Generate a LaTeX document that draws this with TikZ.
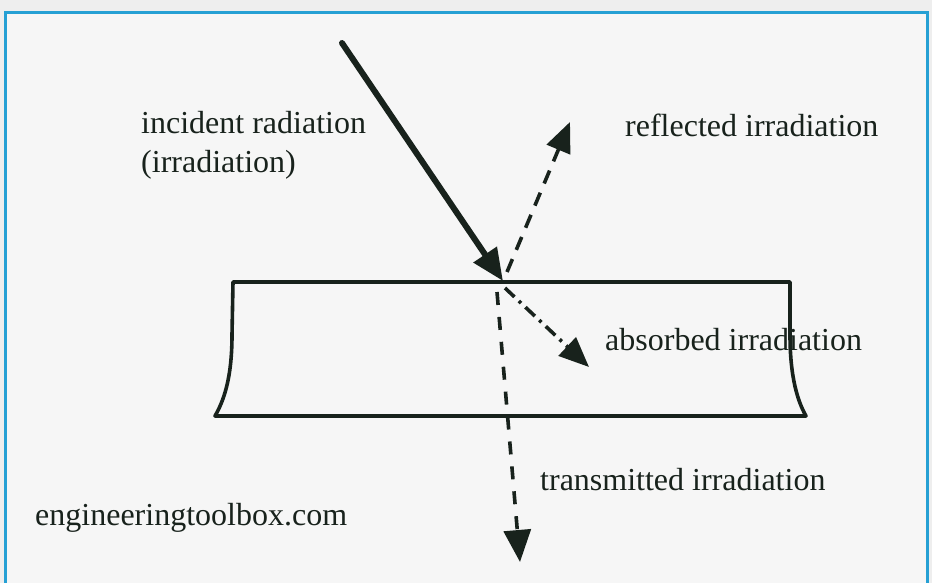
\documentclass[tikz,border=0pt]{standalone}
\usepackage{fontspec}
\setmainfont{Liberation Serif}
\usetikzlibrary{arrows.meta}
\definecolor{inkc}{RGB}{24,34,28}
\definecolor{framec}{RGB}{38,160,212}
\definecolor{paperc}{RGB}{238,238,238}
\tikzset{
  lbl/.style={anchor=base west, inner sep=0pt, text=inkc, font=\fontsize{32}{38}\selectfont},
  bighead/.style={-{Triangle[length=32pt,width=27pt]}},
  midhead/.style={-{Triangle[length=30pt,width=25pt]}},
  ray/.style={draw=inkc, line width=3.6pt},
}
\begin{document}
\begin{tikzpicture}[x=1pt,y=-1pt]
\useasboundingbox (0,0) rectangle (932,583);
\fill[paperc] (0,0) rectangle (932,583);
\fill[white!45!paperc] (6,14) rectangle (926,583);
\draw[framec, line width=3pt] (5,600) -- (5,13) -- (927,13) -- (927,600);
% slab
\draw[inkc, line width=3.6pt, line join=round]
  (233,282) -- (790,282) -- (790,335) .. controls (790,378) and (798,402) .. (806,416)
  -- (215,416) .. controls (223,402) and (232,380) .. (232,335) -- cycle;
% coordinates
\coordinate (src) at (342,43);
\coordinate (hit) at (503,281);
\coordinate (reflS) at (507,272);
\coordinate (reflT) at (570,122);
\coordinate (absS) at (505,288);
\coordinate (absT) at (589,367);
\coordinate (trS) at (497,292);
\coordinate (trT) at (520,562);
% rays
\draw[ray, line width=6pt, line cap=round, bighead] (src) -- (hit);
\draw[ray, midhead, dash pattern=on 14pt off 10pt] (reflS) -- (reflT);
\draw[ray, midhead, dash pattern=on 13pt off 6pt on 3pt off 6pt] (absS) -- (absT);
\draw[ray, bighead, dash pattern=on 13pt off 12pt] (trS) -- (trT);
% labels
\node[lbl] (inc) at (141,134) {incident radiation};
\node[lbl] (inc2) at (141,172) {(irradiation)};
\node[lbl] (refl) at (625,137) {reflected irradiation};
\node[lbl] (abs) at (605,350) {absorbed irradiation};
\node[lbl] (tr) at (540,490) {transmitted irradiation};
\node[lbl] (site) at (35,525) {engineeringtoolbox.com};
\end{tikzpicture}
\end{document}
